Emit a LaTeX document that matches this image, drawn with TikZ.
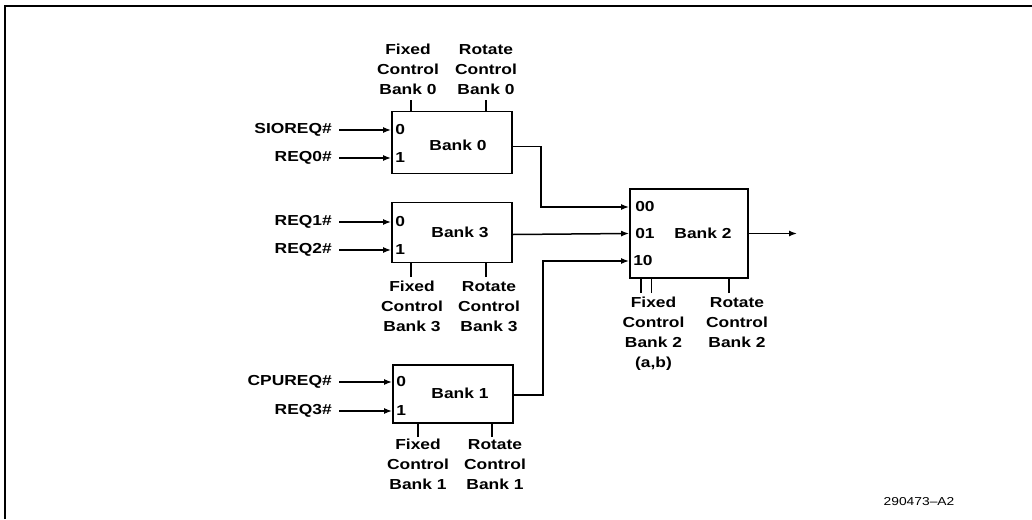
\documentclass[tikz,border=0pt]{standalone}
\usepackage{fontspec}
\setmainfont{Liberation Sans}[FakeStretch=1.2]
\usetikzlibrary{arrows.meta,positioning}
\tikzset{
  bankbox/.style={draw, line width=1.8pt, inner sep=0pt},
  sig/.style={line width=1.5pt},
  arr/.style={sig, -{Latex[length=8pt,width=6pt]}},
  txt/.style={font=\fontsize{14.5}{20}\selectfont\bfseries, inner sep=1pt},
  ctrl/.style={txt, align=center},
}
\begin{document}
\begin{tikzpicture}[x=1pt,y=-1pt]
  \useasboundingbox (0,0) rectangle (1032,519);
  % frame
  \draw[line width=2pt] (5,519) -- (5,6) -- (1032,6);
  %
  % Banks:
  \node[bankbox, minimum width=120pt, minimum height=62pt] (b0) at (452,142.5) {};
  \node[bankbox, minimum width=120pt, minimum height=60pt] (b3) at (452,232.5) {};
  \node[bankbox, minimum width=120pt, minimum height=58pt] (b1) at (453,394) {};
  \node[bankbox, minimum width=118pt, minimum height=89pt] (b2) at (689,233.5) {};
  \node[txt] (n0) at (458,145) {Bank 0};
  \node[txt] (n3) at (460,232) {Bank 3};
  \node[txt] (n1) at (460,393) {Bank 1};
  \node[txt] (n2) at (703,233) {Bank 2};
  %
  % Request inputs:
  \node[txt, anchor=east] (sio) at (333,130) {SIOREQ\#};
  \node[txt, anchor=east] (rq0) at (333,158) {REQ0\#};
  \node[txt, anchor=east] (rq1) at (333,222) {REQ1\#};
  \node[txt, anchor=east] (rq2) at (333,250) {REQ2\#};
  \node[txt, anchor=east] (cpu) at (333,382) {CPUREQ\#};
  \node[txt, anchor=east] (rq3) at (333,411) {REQ3\#};
  \foreach \s/\b in {sio/b0, rq0/b0, rq1/b3, rq2/b3, cpu/b1, rq3/b1}
    \draw[arr] ([xshift=6pt]\s.east) -- (\s -| \b.west);
  % port numbers
  \node[txt, anchor=west] (p00) at ([xshift=3pt]sio -| b0.west) {0};
  \node[txt, anchor=west] (p01) at ([xshift=3pt]rq0 -| b0.west) {1};
  \node[txt, anchor=west] (p30) at ([xshift=3pt]rq1 -| b3.west) {0};
  \node[txt, anchor=west] (p31) at ([xshift=3pt]rq2 -| b3.west) {1};
  \node[txt, anchor=west] (p10) at ([xshift=3pt]cpu -| b1.west) {0};
  \node[txt, anchor=west] (p11) at ([xshift=3pt]rq3 -| b1.west) {1};
  %
  % Bank 2 ports:
  \coordinate (k0) at (541,207);
  \coordinate (k1) at (543,261);
  \node[txt, anchor=west] (q00) at ([xshift=5pt]k0 -| b2.west) {00};
  \node[txt, anchor=west] (q01) at ([xshift=5pt]b2.west) {01};
  \node[txt, anchor=west] (q10) at ([xshift=3pt]k1 -| b2.west) {10};
  %
  % Data Flow Edges:
  \draw[arr] ([yshift=-4pt]b0.east) -| (k0) -- (k0 -| b2.west);
  \draw[arr] ([yshift=-2pt]b3.east) -- (b2.west);
  \draw[arr] ([yshift=-1pt]b1.east) -| (k1) -- (k1 -| b2.west);
  \coordinate (out) at (797,233.5);
  \draw[arr] (b2.east) -- (out);
  %
  % Control ticks and labels:
  \coordinate (f0) at (411,100);
  \coordinate (r0) at (486,100);
  \draw[sig] (f0) -- (f0 |- b0.north);
  \draw[sig] (r0) -- (r0 |- b0.north);
  \node[ctrl, anchor=south] (fc0) at ([xshift=-3pt,yshift=4pt]f0) {Fixed\\Control\\Bank 0};
  \node[ctrl, anchor=south] (rc0) at ([yshift=4pt]r0) {Rotate\\Control\\Bank 0};
  %
  \coordinate (f3) at (411,277);
  \coordinate (r3) at (486,277);
  \draw[sig] (f3) -- (f3 |- b3.south);
  \draw[sig] (r3) -- (r3 |- b3.south);
  \node[ctrl, anchor=north] (fc3) at ([xshift=1pt,yshift=-3pt]f3) {Fixed\\Control\\Bank 3};
  \node[ctrl, anchor=north] (rc3) at ([xshift=3pt,yshift=-3pt]r3) {Rotate\\Control\\Bank 3};
  %
  \coordinate (f1) at (418,437);
  \coordinate (r1) at (492,437);
  \draw[sig] (f1) -- (f1 |- b1.south);
  \draw[sig] (r1) -- (r1 |- b1.south);
  \node[ctrl, anchor=north] (fc1) at ([yshift=-1pt]f1) {Fixed\\Control\\Bank 1};
  \node[ctrl, anchor=north] (rc1) at ([xshift=3pt,yshift=-1pt]r1) {Rotate\\Control\\Bank 1};
  %
  \coordinate (fa) at (641,293);
  \coordinate (fb) at (651.5,293);
  \coordinate (r2) at (729,293);
  \draw[sig] (fa) -- (fa |- b2.south);
  \draw[sig] (fb) -- (fb |- b2.south);
  \draw[sig] (r2) -- (r2 |- b2.south);
  \node[ctrl, anchor=north] (fc2) at ([xshift=2pt,yshift=-3pt]fb) {Fixed\\Control\\Bank 2\\(a,b)};
  \node[ctrl, anchor=north] (rc2) at ([xshift=8pt,yshift=-3pt]r2) {Rotate\\Control\\Bank 2};
  %
  \node[font=\fontsize{11.5}{13}\selectfont, inner sep=0pt] (tag) at (919,502) {290473--A2};
\end{tikzpicture}
\end{document}
